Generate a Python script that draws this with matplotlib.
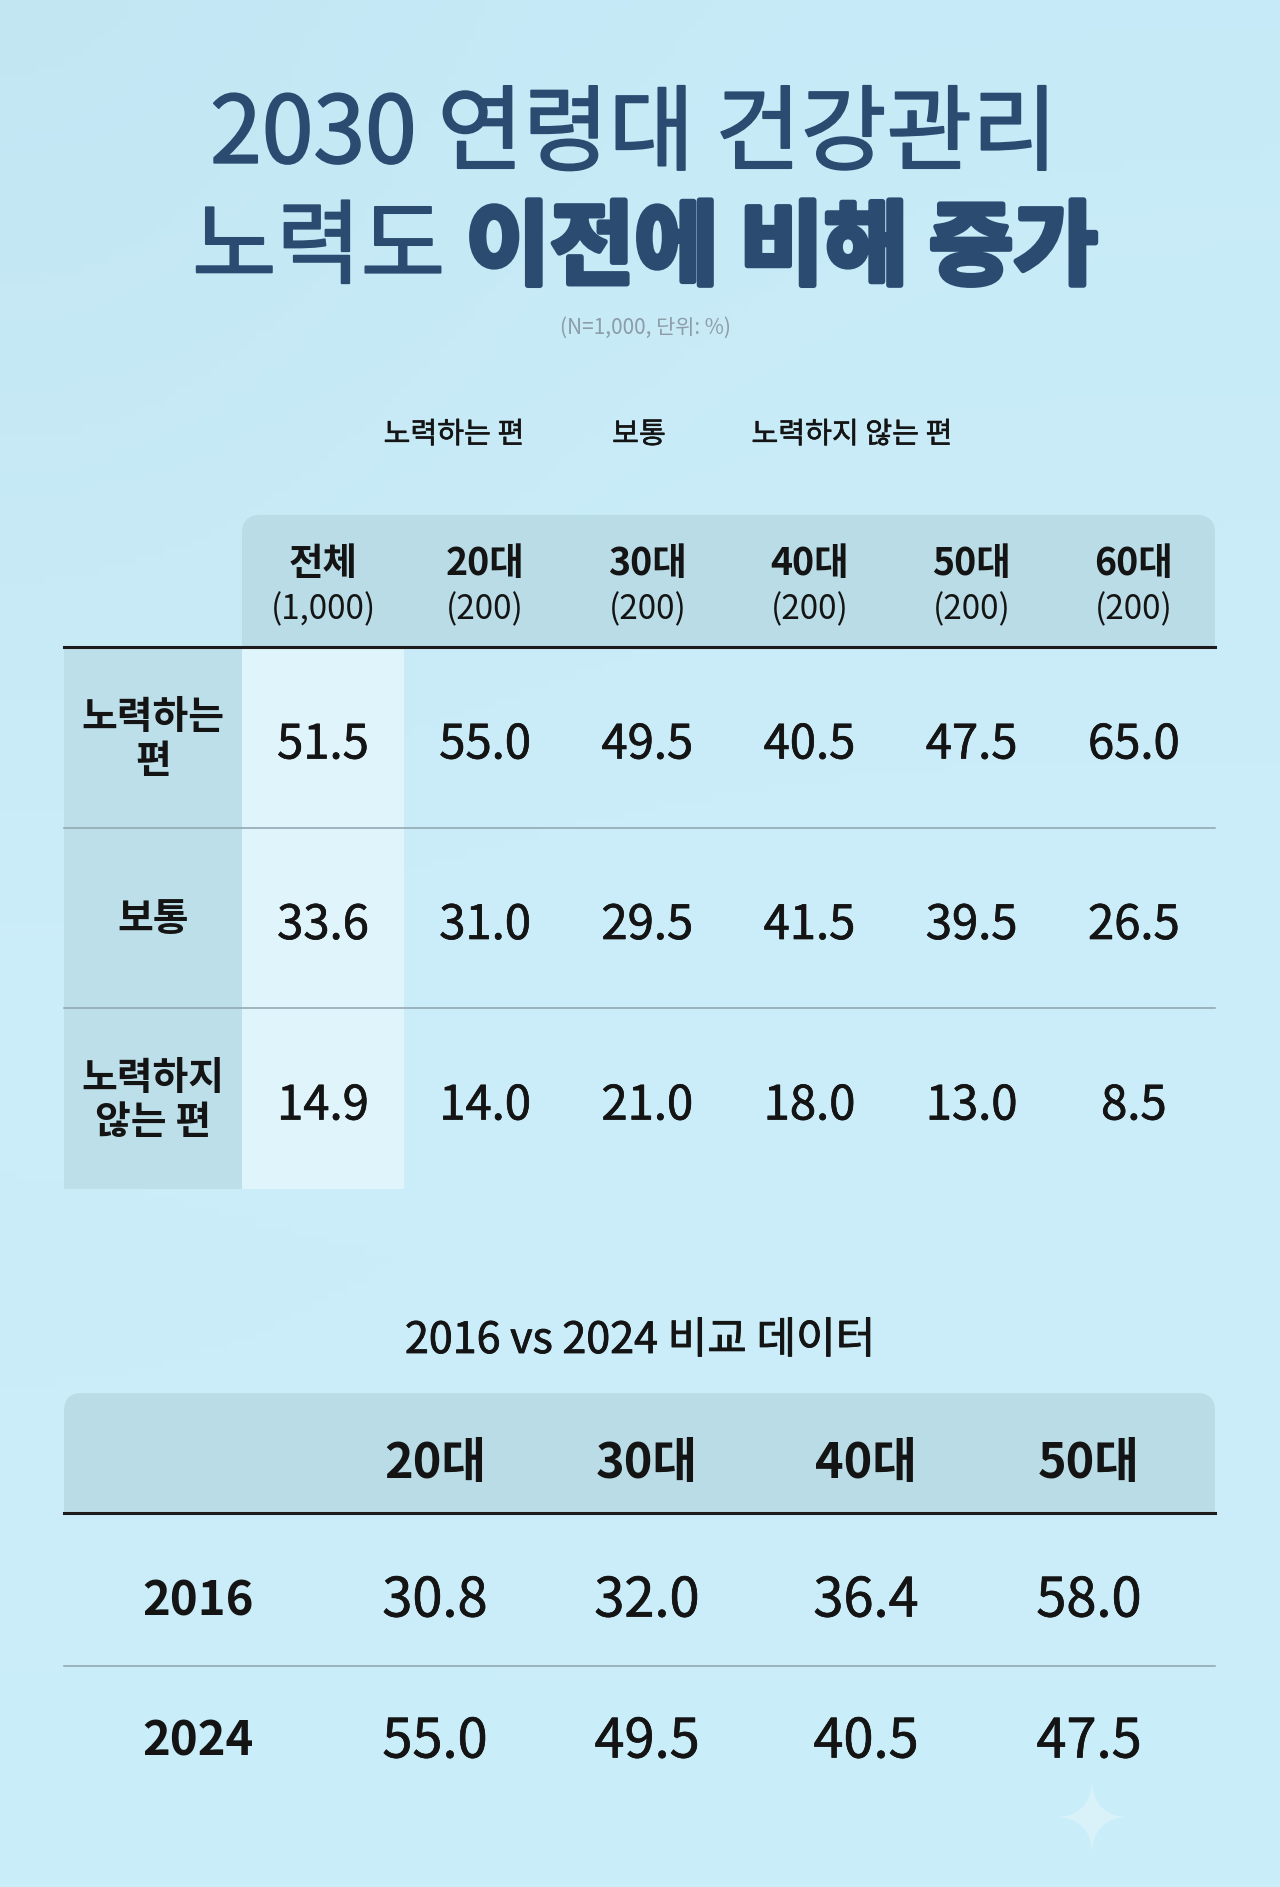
import numpy as np
import matplotlib
matplotlib.use('Agg')
from matplotlib import pyplot as plt
from matplotlib import patheffects as pe
from matplotlib.patches import FancyBboxPatch, Rectangle, PathPatch
from matplotlib.path import Path

plt.rcParams['font.family'] = ['Noto Sans CJK KR', 'DejaVu Sans']

# data
title_line1 = '2030 연령대 건강관리'
title_line2a = '노력도 '
title_line2b = '이전에 비해 증가'
subtitle = '(N=1,000, 단위: %)'
legend_labels = ['노력하는 편', '보통', '노력하지 않는 편']

groups = ['전체', '20대', '30대', '40대', '50대', '60대']
group_n = ['(1,000)', '(200)', '(200)', '(200)', '(200)', '(200)']
row_labels = ['노력하는\n편', '보통', '노력하지\n않는 편']
effort = [51.5, 55.0, 49.5, 40.5, 47.5, 65.0]
normal = [33.6, 31.0, 29.5, 41.5, 39.5, 26.5]
no_effort = [14.9, 14.0, 21.0, 18.0, 13.0, 8.5]

cmp_title = '2016 vs 2024 비교 데이터'
cmp_groups = ['20대', '30대', '40대', '50대']
years = ['2016', '2024']
val_2016 = [30.8, 32.0, 36.4, 58.0]
val_2024 = [55.0, 49.5, 40.5, 47.5]

# colours
TITLE = '#2b4b70'
INK = '#141414'
HEAD_BG = '#b9dce6'
LIGHT_COL = '#e0f4fb'
RULE = '#1c1c1c'
SEP = '#8da3ad'


def thick(w, c):
    # fake a heavier weight with a thin outline in the same colour
    return [pe.withStroke(linewidth=w, foreground=c)]


W, H = 1280, 1887
fig = plt.figure(figsize=(W / 100, H / 100), dpi=100)
ax = fig.add_axes([0, 0, 1, 1])
ax.set_xlim(0, W)
ax.set_ylim(H, 0)
ax.axis('off')

# background gradient
yy, xx = np.mgrid[0:1:200j, 0:1:140j]
top = np.array([0.78, 0.92, 0.97])
mid = np.array([0.80, 0.93, 0.98])
bot = np.array([0.79, 0.93, 0.98])
t = yy[..., None]
bg = np.where(t < 0.5, top + (mid - top) * t * 2, mid + (bot - mid) * (t - 0.5) * 2)
bg = bg - 0.015 * np.exp(-((xx[..., None]) ** 2 + (yy[..., None]) ** 2) * 6)
ax.imshow(np.clip(bg, 0, 1), extent=[0, W, H, 0], aspect='auto', zorder=0)

# title
ax.text(634, 136, title_line1, ha='center', va='center', fontsize=67,
        color=TITLE, fontweight='medium', zorder=5, path_effects=thick(1.3, TITLE))
r = fig.canvas.get_renderer()
ta = ax.text(0, 250, title_line2a, ha='left', va='center', fontsize=66,
             color=TITLE, fontweight='medium', zorder=5, path_effects=thick(1.3, TITLE))
tb = ax.text(0, 250, title_line2b, ha='left', va='center', fontsize=66,
             color=TITLE, fontweight='heavy', zorder=5, path_effects=thick(4, TITLE))
wa = ta.get_window_extent(r).width
wb = tb.get_window_extent(r).width
x0 = 645 - (wa + wb) / 2
ta.set_x(x0)
tb.set_x(x0 + wa)

ax.text(645, 328, subtitle, ha='center', va='center', fontsize=15,
        color='#8c9ca8', zorder=5)

# legend labels
for lab, x in zip(legend_labels, [454, 639, 852]):
    ax.text(x, 435, lab, ha='center', va='center', fontsize=21,
            color=INK, fontweight='medium', zorder=5, path_effects=thick(0.4, INK))

# ---- table 1 ----
t_left, t_right = 64, 1215
lab_right = 242
col_w = (t_right - lab_right) / len(groups)
head_top, head_bot = 515, 647
row_h = 180.5
rows = [effort, normal, no_effort]
t_bot = head_bot + row_h * len(rows)

ax.add_patch(FancyBboxPatch((lab_right, head_top), t_right - lab_right, 70,
                            boxstyle='round,pad=0,rounding_size=18',
                            fc=HEAD_BG, ec='none', zorder=1))
ax.add_patch(Rectangle((lab_right, head_top + 30), t_right - lab_right,
                       head_bot - head_top - 30, fc=HEAD_BG, ec='none', zorder=1))
ax.add_patch(Rectangle((t_left, head_bot), lab_right - t_left, t_bot - head_bot,
                       fc='#bddfe9', ec='none', zorder=1))
ax.add_patch(Rectangle((lab_right, head_bot), col_w, t_bot - head_bot,
                       fc=LIGHT_COL, ec='none', zorder=1))

for i, (g, n) in enumerate(zip(groups, group_n)):
    cx = lab_right + col_w * (i + 0.5)
    ax.text(cx, 563, g, ha='center', va='center', fontsize=27,
            fontweight='bold', color=INK, zorder=5)
    ax.text(cx, 610, n, ha='center', va='center', fontsize=24,
            color=INK, zorder=5)

ax.plot([t_left, t_right], [head_bot, head_bot], color=RULE, lw=2.2, zorder=3)
for k in range(1, len(rows)):
    y = head_bot + row_h * k
    ax.plot([t_left, t_right], [y, y], color=SEP, lw=1.1, zorder=3)

for k, (lab, vals) in enumerate(zip(row_labels, rows)):
    cy = head_bot + row_h * (k + 0.5)
    ax.text((t_left + lab_right) / 2, cy + 2, lab, ha='center', va='center',
            fontsize=28, fontweight='bold', color=INK, linespacing=1.15, zorder=5)
    for i, v in enumerate(vals):
        cx = lab_right + col_w * (i + 0.5)
        ax.text(cx, cy + 8, f'{v:.1f}', ha='center', va='center', fontsize=34,
                color=INK, zorder=5, path_effects=thick(0.5, INK))

# ---- table 2 ----
ax.text(640, 1341, cmp_title, ha='center', va='center', fontsize=31,
        color=INK, fontweight='medium', zorder=5, path_effects=thick(0.6, INK))

h2_top, h2_bot = 1393, 1513
ax.add_patch(FancyBboxPatch((t_left, h2_top), t_right - t_left, 70,
                            boxstyle='round,pad=0,rounding_size=18',
                            fc=HEAD_BG, ec='none', zorder=1))
ax.add_patch(Rectangle((t_left, h2_top + 30), t_right - t_left,
                       h2_bot - h2_top - 30, fc=HEAD_BG, ec='none', zorder=1))
ax.plot([t_left, t_right], [h2_bot, h2_bot], color=RULE, lw=2.2, zorder=3)
ax.plot([t_left, t_right], [1666, 1666], color=SEP, lw=1.1, zorder=3)

cmp_x = [435, 647, 866, 1089]
for g, cx in zip(cmp_groups, cmp_x):
    ax.text(cx, 1463, g, ha='center', va='center', fontsize=35,
            fontweight='bold', color=INK, zorder=5)
for yr, vals, cy in zip(years, [val_2016, val_2024], [1601, 1742]):
    ax.text(198, cy, yr, ha='center', va='center', fontsize=34,
            fontweight='bold', color=INK, zorder=5)
    for v, cx in zip(vals, cmp_x):
        ax.text(cx, cy, f'{v:.1f}', ha='center', va='center', fontsize=39,
                color=INK, zorder=5, path_effects=thick(0.5, INK))

# sparkle
sx, sy, sr = 1092, 1817, 38
verts = [(sx, sy - sr), (sx, sy), (sx + sr, sy), (sx, sy), (sx, sy + sr),
         (sx, sy), (sx - sr, sy), (sx, sy), (sx, sy - sr)]
codes = [Path.MOVETO] + [Path.CURVE3] * 8
ax.add_patch(PathPatch(Path(verts, codes), fc='white', ec='none', alpha=0.3, zorder=2))

fig.savefig('out.png', dpi=100)
